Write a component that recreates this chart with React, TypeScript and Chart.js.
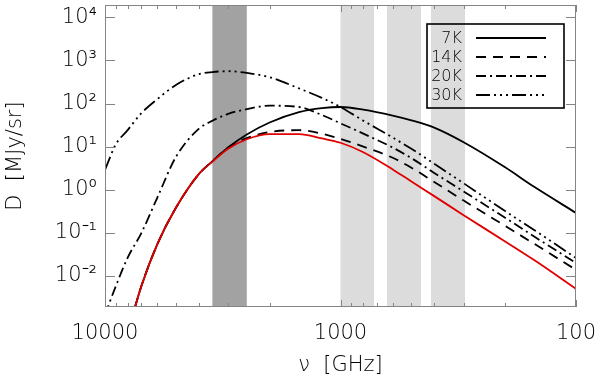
import React, { useEffect, useRef } from "react";
import { Chart, registerables } from "chart.js";

Chart.register(...registerables);

// ---- data ----
const frequencies = [10000, 9000, 8000, 7000, 6000, 5000, 4000, 3500, 3000, 2500, 2000, 1500, 1200, 1000, 800, 600, 500, 400, 300, 200, 150, 100];

const totalModel = [0.00001, 0.000063, 0.0005, 0.0059, 0.054, 0.38, 2.29, 4.47, 8.9, 14.8, 19.5, 19.5, 15.5, 12.3, 7.4, 2.95, 1.55, 0.71, 0.257, 0.063, 0.023, 0.005];
const dust7K = [0.00001, 0.000063, 0.0005, 0.0059, 0.054, 0.38, 2.29, 4.57, 9.55, 19.1, 36.3, 63, 78, 83, 72, 52.5, 40.7, 27.5, 12.6, 3.3, 1.15, 0.29];
const dust14K = [0.00001, 0.000063, 0.0005, 0.0059, 0.054, 0.38, 2.29, 4.57, 9.55, 15.8, 21.9, 24.0, 20.0, 15.1, 10.0, 5.5, 3.24, 1.51, 0.56, 0.145, 0.055, 0.0138];
const dust20K = [0.00126, 0.00575, 0.0269, 0.1, 0.65, 5.75, 25.7, 39.8, 57.5, 74, 89, 83, 54, 34.7, 20, 9.5, 5.4, 2.45, 0.91, 0.224, 0.081, 0.02];
const dust30K = [2.9, 11.2, 24.5, 60, 126, 269, 479, 537, 562, 513, 407, 224, 135, 83, 40, 16.2, 8.9, 4.0, 1.41, 0.32, 0.115, 0.026];

const legendLabels = ["7K", "14K", "20K", "30K"];

const xTickValues = [10000, 1000, 100];
const xMinorTickValues = [9000, 8000, 7000, 6000, 5000, 4000, 3000, 2000, 900, 800, 700, 600, 500, 400, 300, 200];
const yTickExponents = [-2, -1, 0, 1, 2, 3, 4];

const bandFromGHz = [3500, 1000, 635, 413];
const bandToGHz = [2500, 720, 455, 296];
const bandIsDark = [true, false, false, false];

// ---- styles ----
const FONT = "'DejaVu Sans', sans-serif";
const WEIGHT = "200";
const TEXT = "#000";
const FRAME = "#858585";
const DASHES: number[][] = [[], [10, 7], [10, 4, 2, 4], [14, 4, 2, 4, 2, 4, 2, 4]];

const SUP: Record<string, string> = { "-": "\u207B", "0": "\u2070", "1": "\u00B9", "2": "\u00B2", "3": "\u00B3", "4": "\u2074" };
const supText = (k: number) => String(k).split("").map((c) => SUP[c] || c).join("");

const overlay = {
  id: "overlay",
  beforeDatasetsDraw(chart: any) {
    const { ctx, chartArea: a, scales } = chart;
    const x = scales.x;
    ctx.save();
    for (let i = 0; i < bandFromGHz.length; i++) {
      const p1 = x.getPixelForValue(bandFromGHz[i]);
      const p2 = x.getPixelForValue(bandToGHz[i]);
      ctx.fillStyle = bandIsDark[i] ? "#a2a2a2" : "#dcdcdc";
      ctx.fillRect(Math.min(p1, p2), a.top, Math.abs(p2 - p1), a.bottom - a.top);
    }
    ctx.restore();
  },
  afterDraw(chart: any) {
    const { ctx, chartArea: a, scales } = chart;
    const x = scales.x;
    const y = scales.y;
    ctx.save();
    // frame
    ctx.strokeStyle = FRAME;
    ctx.lineWidth = 1;
    ctx.setLineDash([]);
    ctx.strokeRect(a.left + 0.5, a.top + 0.5, a.right - a.left - 1, a.bottom - a.top - 1);
    // inward ticks
    ctx.beginPath();
    const xt = (v: number, len: number) => {
      const px = Math.round(x.getPixelForValue(v)) + 0.5;
      ctx.moveTo(px, a.bottom);
      ctx.lineTo(px, a.bottom - len);
      ctx.moveTo(px, a.top);
      ctx.lineTo(px, a.top + len);
    };
    xTickValues.forEach((v) => xt(v, 7));
    xMinorTickValues.forEach((v) => xt(v, 4));
    yTickExponents.forEach((k) => {
      const py = Math.round(y.getPixelForValue(Math.pow(10, k))) + 0.5;
      ctx.moveTo(a.left, py);
      ctx.lineTo(a.left + 10, py);
      ctx.moveTo(a.right, py);
      ctx.lineTo(a.right - 10, py);
    });
    ctx.stroke();

    // legend
    const bx = a.right - 149;
    const by = a.top + 19;
    ctx.strokeStyle = "#000";
    ctx.lineWidth = 1.6;
    ctx.strokeRect(bx, by, 137, 84);
    ctx.font = `${WEIGHT} 16px ${FONT}`;
    ctx.fillStyle = TEXT;
    ctx.textAlign = "right";
    ctx.textBaseline = "middle";
    legendLabels.forEach((lab, i) => {
      const ly = by + 14 + i * 19;
      ctx.fillText(lab, bx + 35, ly + 1);
      ctx.beginPath();
      ctx.setLineDash(DASHES[i]);
      ctx.lineWidth = 1.8;
      ctx.moveTo(bx + 49, ly);
      ctx.lineTo(bx + 119, ly);
      ctx.stroke();
    });
    ctx.restore();
  },
};

const zeroPad = (s: any) => {
  s.paddingTop = 0;
  s.paddingBottom = 0;
  s.paddingLeft = 0;
  s.paddingRight = 0;
};

export default function App() {
  const ref = useRef<HTMLCanvasElement | null>(null);
  useEffect(() => {
    if (!ref.current) return;
    const mk = (vals: number[]) => frequencies.map((f, i) => ({ x: f, y: vals[i] }));
    const base = { pointRadius: 0, borderWidth: 1.8, cubicInterpolationMode: "monotone" as const, fill: false };
    const labelFont = { family: FONT, size: 21, weight: WEIGHT };
    const chart = new Chart(ref.current, {
      type: "line",
      data: {
        datasets: [
          { ...base, label: "total", data: mk(totalModel), borderColor: "#e00000" },
          { ...base, label: legendLabels[0], data: mk(dust7K), borderColor: "#000", borderDash: DASHES[0] },
          { ...base, label: legendLabels[1], data: mk(dust14K), borderColor: "#000", borderDash: DASHES[1] },
          { ...base, label: legendLabels[2], data: mk(dust20K), borderColor: "#000", borderDash: DASHES[2] },
          { ...base, label: legendLabels[3], data: mk(dust30K), borderColor: "#000", borderDash: DASHES[3] },
        ],
      },
      options: {
        animation: false,
        responsive: false,
        devicePixelRatio: 1,
        layout: { padding: { top: 5, right: 24, left: 0, bottom: 0 } },
        plugins: { legend: { display: false }, tooltip: { enabled: false } },
        scales: {
          x: {
            type: "logarithmic",
            reverse: true,
            min: 100,
            max: 10000,
            grid: { display: false, drawTicks: false },
            border: { display: false },
            afterBuildTicks: (s: any) => {
              s.ticks = xTickValues.map((v) => ({ value: v }));
            },
            afterFit: (s: any) => {
              s.height = 73;
              zeroPad(s);
            },
            ticks: {
              callback: (v: any) => String(v),
              font: labelFont,
              color: TEXT,
              padding: 14,
              maxRotation: 0,
              autoSkip: false,
            },
            title: {
              display: true,
              text: "\u03BD  [GHz]",
              font: labelFont,
              color: TEXT,
              padding: { top: 0, bottom: 2 },
            },
          },
          y: {
            type: "logarithmic",
            min: 0.0019,
            max: 19300,
            grid: { display: false, drawTicks: false },
            border: { display: false },
            afterBuildTicks: (s: any) => {
              s.ticks = yTickExponents.map((k) => ({ value: Math.pow(10, k) }));
            },
            afterFit: (s: any) => {
              s.width = 105;
              zeroPad(s);
            },
            ticks: {
              callback: (v: any) => "10" + supText(Math.round(Math.log10(v))),
              font: labelFont,
              color: TEXT,
              padding: 8,
              autoSkip: false,
            },
            title: {
              display: true,
              text: "D  [MJy/sr]",
              font: labelFont,
              color: TEXT,
              padding: { top: 3, bottom: 0 },
            },
          },
        },
      },
      plugins: [overlay],
    } as any);
    return () => chart.destroy();
  }, []);
  return (
    <div style={{ position: "fixed", left: 0, top: 0, width: 600, height: 380, background: "#fff" }}>
      <canvas ref={ref} width={600} height={380} style={{ width: 600, height: 380 }} />
    </div>
  );
}
